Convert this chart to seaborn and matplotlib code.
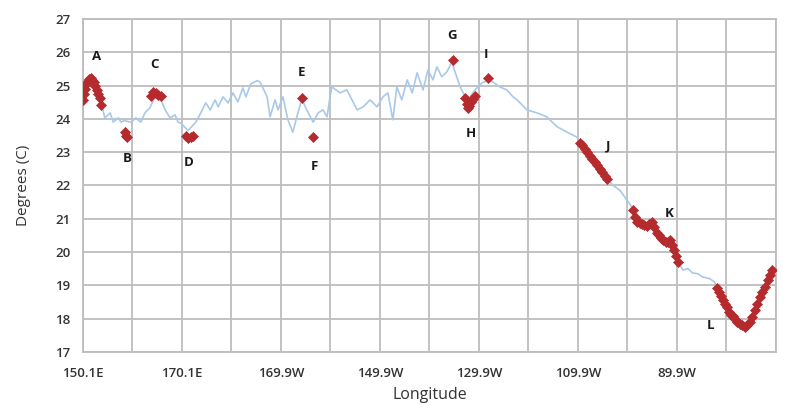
import matplotlib
matplotlib.use("Agg")
import matplotlib.pyplot as plt
import seaborn as sns
import pandas as pd

# Longitude in degrees east (0-360), temperature in degrees C
line_lon = [150.1, 150.7, 151.7, 152.7, 153.5, 153.9, 154.5, 155.6, 156.2, 157.2,
            157.8, 158.4, 159.8, 160.8, 161.8, 162.6, 163.6, 164.6, 165.9, 166.7,
            167.7, 168.7, 169.3, 169.9, 171.3, 172.9, 173.9, 174.9, 175.8, 176.8,
            177.4, 178.4, 179.4, 180.4, 181.4, 182.4, 183.0, 184.0, 185.3, 185.9,
            187.3, 187.9, 188.9, 189.5, 190.5, 191.5, 192.5, 193.3, 194.3, 195.3,
            196.6, 197.6, 198.6, 199.4, 200.0, 200.4, 202.0, 203.4, 205.5, 206.7,
            208.1, 209.5, 210.7, 211.7, 212.7, 213.5, 214.5, 215.6, 216.6, 217.6,
            218.8, 219.8, 220.8, 221.6, 222.6, 223.6, 224.6, 225.6, 226.3, 227.3,
            227.9, 229.3, 230.7, 232.3, 234.3, 235.7, 237.0, 237.8, 239.8, 241.8,
            243.8, 245.9, 247.9, 249.9, 250.5, 251.5, 252.5, 253.5, 254.5, 255.5,
            256.2, 257.2, 258.6, 260.0, 261.0, 261.2, 261.8, 262.6, 263.4, 264.0,
            265.0, 266.0, 266.7, 267.3, 268.3, 268.7, 269.1, 269.7, 270.3, 271.3,
            272.3, 273.3, 274.3, 275.3, 276.7, 277.7, 278.2, 278.8, 279.4, 280.2,
            280.8, 281.8, 282.8, 283.8, 284.8, 285.8, 286.8, 287.8, 288.4, 289.2]
line_temp = [24.57, 24.96, 25.23, 25.00, 24.66, 24.42, 24.03, 24.18, 23.90, 24.03,
             23.90, 23.95, 23.90, 24.03, 23.90, 24.18, 24.33, 24.65, 24.55, 24.27,
             24.03, 24.12, 23.90, 23.87, 23.65, 23.90, 24.18, 24.48, 24.27, 24.57,
             24.36, 24.66, 24.48, 24.78, 24.51, 24.93, 24.66, 25.05, 25.15, 25.10,
             24.66, 24.06, 24.57, 24.27, 24.66, 23.97, 23.60, 24.06, 24.60, 24.27,
             23.90, 24.18, 24.27, 24.06, 24.66, 24.96, 24.78, 24.87, 24.27, 24.36,
             24.57, 24.36, 24.66, 24.78, 23.97, 24.96, 24.57, 25.17, 24.78, 25.38,
             24.87, 25.47, 25.17, 25.56, 25.26, 25.41, 25.70, 25.26, 24.96, 24.66,
             24.57, 24.87, 25.08, 25.17, 24.96, 24.87, 24.66, 24.57, 24.27, 24.18,
             24.06, 23.76, 23.60, 23.45, 23.28, 23.10, 22.90, 22.70, 22.50, 22.30,
             22.17, 22.00, 21.85, 21.56, 21.35, 21.26, 21.00, 20.87, 20.85, 20.78,
             20.90, 20.57, 20.45, 20.36, 20.30, 20.35, 20.20, 19.90, 19.70, 19.46,
             19.50, 19.37, 19.35, 19.25, 19.20, 19.10, 18.93, 18.75, 18.56, 18.40,
             18.20, 18.08, 17.87, 17.75, 17.90, 18.26, 18.65, 18.95, 19.16, 19.46]

# Highlighted observations (red markers)
red_lon = [150.1, 150.3, 150.5, 150.8, 151.1, 151.4, 151.7, 152.0, 152.3, 152.6, 152.9, 153.2, 153.5, 153.8,
           158.5, 158.7, 158.9,
           163.8, 164.3, 164.8, 165.3, 165.8,
           170.9, 171.4, 171.9, 172.4,
           194.3, 196.6, 224.8,
           227.3, 227.6, 227.8, 228.1, 228.4, 228.8, 229.3,
           231.9,
           250.5, 251.0, 251.5, 252.0, 252.5, 253.0, 253.5, 254.0, 254.5, 255.0, 255.5, 256.0,
           261.2, 261.6, 262.0, 262.6, 263.0, 263.4, 264.0, 264.5, 265.0, 265.5, 266.0, 266.4,
           266.8, 267.3, 267.8, 268.3, 268.7, 269.1, 269.5, 269.9, 270.3,
           278.2, 278.6, 279.0, 279.4, 279.8, 280.2, 280.6, 281.0, 281.4, 281.8, 282.3, 282.8,
           283.3, 283.8, 284.3, 284.8, 285.3, 285.8, 286.3, 286.8, 287.3, 287.8, 288.4, 288.8, 289.2]
red_temp = [24.57, 24.75, 24.90, 25.05, 25.15, 25.20, 25.23, 25.18, 25.10, 25.00, 24.88, 24.75, 24.62, 24.42,
            23.62, 23.50, 23.45,
            24.70, 24.82, 24.78, 24.72, 24.68,
            23.50, 23.42, 23.45, 23.50,
            24.62, 23.45, 25.77,
            24.62, 24.45, 24.32, 24.38, 24.50, 24.60, 24.68,
            25.23,
            23.28, 23.20, 23.10, 23.00, 22.88, 22.80, 22.70, 22.60, 22.50, 22.40, 22.28, 22.20,
            21.26, 21.05, 20.90, 20.87, 20.85, 20.82, 20.78, 20.85, 20.90, 20.75, 20.57, 20.50,
            20.42, 20.36, 20.30, 20.30, 20.35, 20.20, 20.05, 19.88, 19.70,
            18.93, 18.80, 18.68, 18.56, 18.45, 18.35, 18.20, 18.12, 18.08, 18.00, 17.90, 17.85,
            17.80, 17.75, 17.82, 17.90, 18.05, 18.26, 18.45, 18.65, 18.80, 18.95, 19.16, 19.30, 19.46]

point_labels = ["A", "B", "C", "D", "E", "F", "G", "H", "I", "J", "K", "L"]
label_lon = [152.9, 159.0, 164.6, 171.5, 194.3, 196.8, 224.6, 228.5, 231.5, 256.2, 268.5, 276.8]
label_temp = [25.86, 22.80, 25.62, 22.70, 25.38, 22.56, 26.49, 23.55, 25.92, 23.20, 21.15, 17.80]

tick_pos = [150.1, 170.1, 190.1, 210.1, 230.1, 250.1, 270.1, 290.1]
tick_text = ["150.1E", "170.1E", "169.9W", "149.9W", "129.9W", "109.9W", "89.9W", ""]
minor_pos = [160.1, 180.1, 200.1, 220.1, 240.1, 260.1, 280.1]
y_ticks = [17, 18, 19, 20, 21, 22, 23, 24, 25, 26, 27]

sns.set_style("white")
plt.rcParams["font.family"] = ["Open Sans", "DejaVu Sans"]

line_df = pd.DataFrame({"lon": line_lon, "temp": line_temp})
red_df = pd.DataFrame({"lon": red_lon, "temp": red_temp})

fig = plt.figure(figsize=(7.98, 4.05), dpi=100)
ax = fig.add_axes([0.104, 0.131, 0.8684, 0.8222])

grid_c = "#bdbdbd"
sns.lineplot(data=line_df, x="lon", y="temp", ax=ax, color="#a9c9e8",
             linewidth=1.2, zorder=2)
sns.scatterplot(data=red_df, x="lon", y="temp", ax=ax, color="#b52a2d",
                marker="D", s=26, edgecolor="#b52a2d", linewidth=0.5, zorder=3)

for t, lx, ly in zip(point_labels, label_lon, label_temp):
    ax.text(lx, ly, t, ha="center", va="center", fontsize=9.5,
            fontweight="bold", color="#1a1a1a", zorder=4)

ax.set_xlim(150.1, 290.1)
ax.set_ylim(17, 27)
ax.set_xticks(tick_pos)
ax.set_xticklabels(tick_text)
ax.set_xticks(minor_pos, minor=True)
ax.set_yticks(y_ticks)

ax.grid(True, which="both", axis="x", color=grid_c, linewidth=1.3)
ax.grid(True, which="major", axis="y", color=grid_c, linewidth=1.3)
ax.set_axisbelow(True)
for s in ax.spines.values():
    s.set_color(grid_c)
    s.set_linewidth(1.3)

ax.tick_params(axis="both", which="both", length=5, width=1.3, color=grid_c,
               labelsize=9.5, labelcolor="#333333")
ax.tick_params(axis="x", which="both", pad=6)
ax.tick_params(axis="y", which="both", pad=4)
for lab in ax.get_xticklabels() + ax.get_yticklabels():
    lab.set_fontweight("semibold")

ax.set_xlabel("Longitude", fontsize=11.5, color="#333333")
ax.set_ylabel("Degrees (C)", fontsize=11, color="#333333")
ax.xaxis.set_label_coords(0.5, -0.105)
ax.yaxis.set_label_coords(-0.075, 0.5)

fig.savefig("out.png", dpi=100)
